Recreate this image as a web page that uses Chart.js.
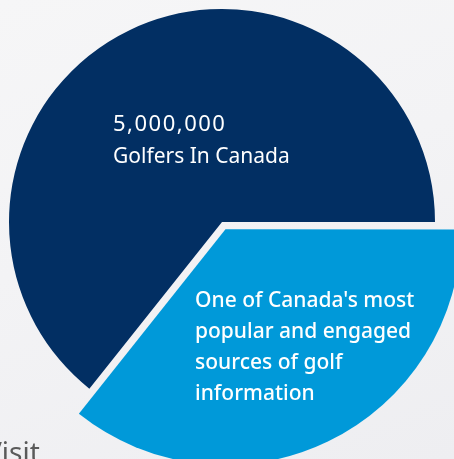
<!DOCTYPE html>
<html lang="en">
<head>
  <meta charset="UTF-8">
  <title>Golfers In Canada</title>
  <script src="https://cdn.jsdelivr.net/npm/chart.js"></script>
  <style>
    html, body {
      margin: 0;
      padding: 0;
      width: 454px;
      height: 459px;
      overflow: hidden;
    }
    body {
      position: relative;
      background: linear-gradient(160deg, #f6f6f7 0%, #f3f3f5 45%, #eeeef1 100%);
      font-family: "Noto Sans", Lato, sans-serif;
    }
    #wrap {
      position: absolute;
      left: 0;
      top: 0;
      width: 454px;
      height: 459px;
    }
    .label {
      position: absolute;
      color: #fff;
      white-space: nowrap;
    }
    #navyLabel {
      left: 113px;
      top: 106px;
      font-size: 21px;
      line-height: 32px;
    }
    #navyLabel .big {
      font-size: 22px;
      letter-spacing: 1.5px;
    }
    #blueLabel {
      left: 195px;
      top: 284px;
      font-size: 21px;
      line-height: 31px;
      font-weight: 500;
    }
    #visit {
      position: absolute;
      left: -15px;
      top: 432px;
      font-size: 28px;
      color: #5a5a5a;
      font-family: "Noto Sans", sans-serif;
    }
  </style>
</head>
<body>
  <div id="wrap"><canvas id="pie"></canvas></div>
  <div class="label" id="navyLabel"><span class="big">5,000,000</span><br>Golfers In Canada</div>
  <div class="label" id="blueLabel">One of Canada's most<br>popular and engaged<br>sources of golf<br>information</div>
  <div id="visit">Visit</div>

  <script>
    const categories = ["Canada's golf information source", "Golfers In Canada"];
    const shares = [35.7, 64.3];
    const sliceColors = ['#0099d9', '#022f63'];
    const sliceOffsets = [32, 0];

    // the light blue slice is drawn bigger than the rest of the pie
    const bigSliceRadius = 234;

    const enlargeSlice = {
      id: 'enlargeSlice',
      afterDatasetsUpdate(chart) {
        const arc = chart.getDatasetMeta(0).data[0];
        if (arc) arc.outerRadius = bigSliceRadius;
      }
    };

    const ctx = document.getElementById('pie').getContext('2d');
    const chart = new Chart(ctx, {
      type: 'pie',
      data: {
        labels: categories,
        datasets: [{
          data: shares,
          backgroundColor: sliceColors,
          offset: sliceOffsets,
          borderWidth: 0
        }]
      },
      options: {
        responsive: true,
        maintainAspectRatio: false,
        animation: false,
        events: [],
        rotation: 90,
        radius: 213,
        layout: {
          padding: { left: 0, top: 0, right: 10, bottom: 15 }
        },
        plugins: {
          legend: { display: false },
          tooltip: { enabled: false }
        }
      },
      plugins: [enlargeSlice]
    });
  </script>
</body>
</html>
